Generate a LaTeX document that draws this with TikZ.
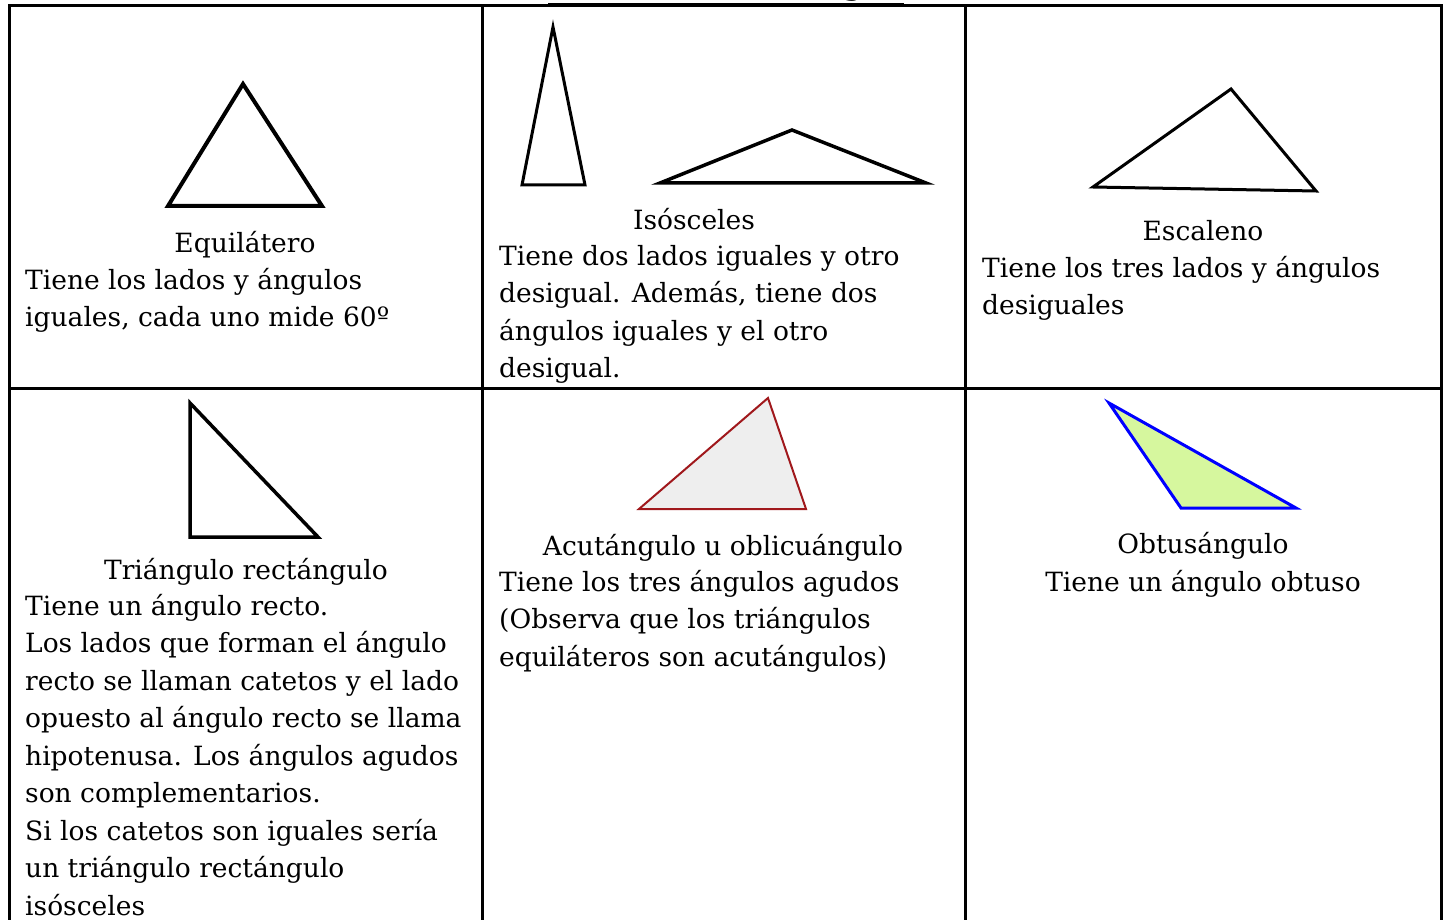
\documentclass[tikz,border=0pt]{standalone}
\usepackage{fontspec}
\setmainfont{DejaVu Serif}
\usepackage{xcolor}
\usetikzlibrary{positioning}
\definecolor{acuteline}{RGB}{160,24,28}
\definecolor{acutefill}{RGB}{238,238,238}
\definecolor{obtusefill}{RGB}{214,247,158}
\tikzset{
  cellgrid/.style={line width=3pt,black},
  heading/.style={anchor=base,inner sep=0pt,font=\fontsize{26.5}{37.5}\selectfont},
  bodytext/.style={anchor=north west,inner sep=0pt,align=left,
                   font=\fontsize{26.5}{37.5}\selectfont},
  tri/.style={line width=3.5pt,line join=miter,draw=black}
}
\begin{document}
\begin{tikzpicture}[x=1pt,y=-1pt]
  \useasboundingbox (0,0) rectangle (1446,920);
  % title, cut off by the page edge
  \node[anchor=base,inner sep=0pt,font=\fontsize{26.5}{30}\selectfont\bfseries] (title) at (726,-4)
    {Clasificación de triángulos};
  \draw[line width=2pt] (548,4) -- (904,4);

  % table
  \draw[cellgrid] (9,960) -- (9,6) -- (1441,6) -- (1441,960);
  \draw[cellgrid] (9,388) -- (1441,388);
  \draw[cellgrid] (482,6) -- (482,960);
  \draw[cellgrid] (965,6) -- (965,960);

  % triangles
  \draw[tri,line width=4pt] (243,84) -- (322,206) -- (168,206) -- cycle;
  \draw[tri,line width=3pt] (553,27) -- (585,185) -- (522,185) -- cycle;
  \draw[tri,line width=3.5pt] (792,130) -- (926,183) -- (660,183) -- cycle;
  \draw[tri,line width=3pt] (1231,89) -- (1316,191) -- (1093,187) -- cycle;
  \draw[tri,line width=3.5pt] (190,403) -- (318,537) -- (190,537) -- cycle;
  \draw[tri,draw=acuteline,fill=acutefill,line width=2pt] (768,398) -- (806,509) -- (639,509) -- cycle;
  \draw[tri,draw=blue,fill=obtusefill,line width=3pt] (1109,403) -- (1296,508) -- (1181,508) -- cycle;

  % texts
  \node[heading] (equi) at (245,253) {Equilátero};
  \node[bodytext] (equitxt) at (25,268)
    {Tiene los lados y ángulos\\iguales, cada uno mide 60º};

  \node[heading] (isos) at (694,230) {Isósceles};
  \node[bodytext] (isostxt) at (499,245)
    {Tiene dos lados iguales y otro\\desigual. Además, tiene dos\\ángulos iguales y el otro\\desigual.};

  \node[heading] (esca) at (1203,241) {Escaleno};
  \node[bodytext] (escatxt) at (982,256)
    {Tiene los tres lados y ángulos\\desiguales};

  \node[heading] (rect) at (246,579) {Triángulo rectángulo};
  \node[bodytext] (recttxt) at (25,594)
    {Tiene un ángulo recto.\\Los lados que forman el ángulo\\recto se llaman catetos y el lado\\opuesto al ángulo recto se llama\\hipotenusa. Los ángulos agudos\\son complementarios.\\Si los catetos son iguales sería\\un triángulo rectángulo\\isósceles};

  \node[heading] (acut) at (723,555) {Acutángulo u oblicuángulo};
  \node[bodytext] (acuttxt) at (499,570)
    {Tiene los tres ángulos agudos\\(Observa que los triángulos\\equiláteros son acutángulos)};

  \node[heading] (obtu) at (1203,553) {Obtusángulo};
  \node[heading] (obtutxt) at (1203,591) {Tiene un ángulo obtuso};
\end{tikzpicture}
\end{document}
